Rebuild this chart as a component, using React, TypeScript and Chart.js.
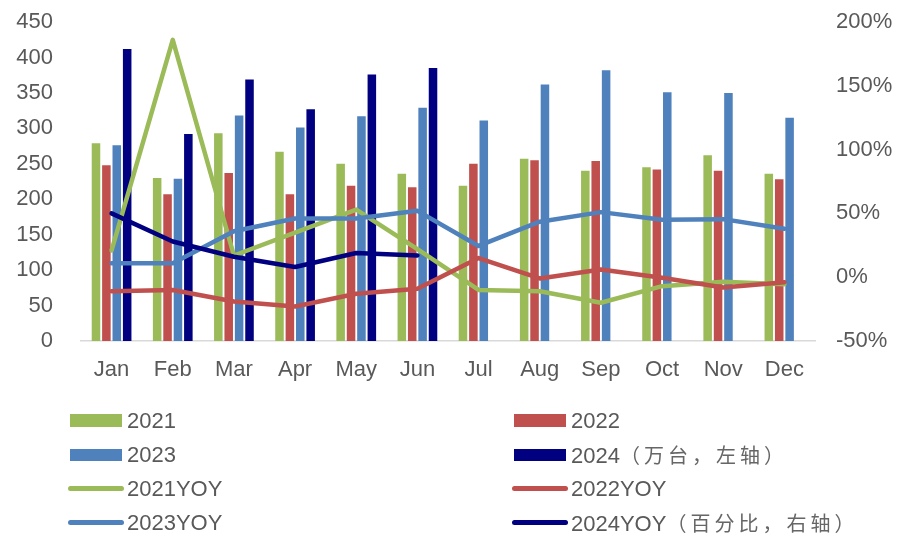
import React, { useEffect, useRef } from 'react';
import { Chart, registerables } from 'chart.js';

Chart.register(...registerables);

const categories = ['Jan', 'Feb', 'Mar', 'Apr', 'May', 'Jun', 'Jul', 'Aug', 'Sep', 'Oct', 'Nov', 'Dec'];

const sales2021 = [279, 230, 293, 267, 250, 236, 219, 257, 240, 245, 262, 236];
const sales2022 = [248, 207, 237, 207, 219, 217, 250, 255, 254, 242, 240, 228];
const sales2023 = [276, 229, 318, 301, 317, 329, 311, 362, 382, 351, 350, 315];
const sales2024 = [412, 292, 369, 327, 376, 385, null, null, null, null, null, null];

const yoy2021 = [21, 186, 17, 35, 53, 22, -10, -11, -20, -7, -3.5, -5.5];
const yoy2022 = [-11, -10, -19, -23, -13, -9, 15, -1, 6, -0.5, -8, -4];
const yoy2023 = [11, 11, 36, 46, 46, 52, 24.5, 43.5, 51, 45, 45.5, 38];
const yoy2024 = [50, 28, 16, 8, 19, 17, null, null, null, null, null, null];

const leftTicks = { min: 0, max: 450, step: 50 };
const rightTicks = { min: -50, max: 200, step: 50 };

const barLabels = ['2021', '2022', '2023', '2024（万台，左轴）'];
const lineLabels = ['2021YOY', '2022YOY', '2023YOY', '2024YOY（百分比，右轴）'];
const seriesColors = ['#9BBB59', '#C0504D', '#4F81BD', '#000080'];

const FONT = "'Liberation Sans', Arial, 'Noto Sans CJK SC', sans-serif";
const CJK_FONT = "'Noto Sans CJK SC', 'Liberation Sans', sans-serif";
const TEXT = '#595959';

export default function App() {
  const ref = useRef<HTMLCanvasElement>(null);

  useEffect(() => {
    const barData = [sales2021, sales2022, sales2023, sales2024];
    const lineData = [yoy2021, yoy2022, yoy2023, yoy2024];
    const datasets: any[] = [];
    barData.forEach((d, i) => {
      datasets.push({
        type: 'bar',
        label: barLabels[i],
        data: d,
        backgroundColor: seriesColors[i],
        borderWidth: 0,
        yAxisID: 'y',
        order: 10,
        categoryPercentage: 0.68,
        barPercentage: 0.82,
      });
    });
    lineData.forEach((d, i) => {
      datasets.push({
        type: 'line',
        label: lineLabels[i],
        data: d,
        borderColor: seriesColors[i],
        backgroundColor: seriesColors[i],
        borderWidth: 4.5,
        pointRadius: 0,
        pointHoverRadius: 0,
        tension: 0,
        fill: false,
        spanGaps: false,
        borderJoinStyle: 'round',
        borderCapStyle: 'round',
        yAxisID: 'y1',
        order: 3 - i,
      });
    });

    const chart = new Chart(ref.current!, {
      type: 'bar',
      data: { labels: categories, datasets },
      options: {
        responsive: false,
        animation: false,
        layout: { padding: { top: 22, bottom: 0, left: 0, right: 0 } },
        plugins: { legend: { display: false }, tooltip: { enabled: false } },
        scales: {
          x: {
            grid: { display: false, drawTicks: false },
            border: { display: true, color: '#D9D9D9', width: 1.5 },
            ticks: { color: TEXT, font: { family: FONT, size: 22 }, padding: 16, maxRotation: 0, autoSkip: false },
            afterFit: (s: any) => { s.height = 194; },
          },
          y: {
            position: 'left',
            min: leftTicks.min,
            max: leftTicks.max,
            grid: { display: false, drawTicks: false },
            border: { display: false },
            ticks: { stepSize: leftTicks.step, color: TEXT, font: { family: FONT, size: 22 }, padding: 28 },
            afterFit: (s: any) => { s.width = 81; s.paddingTop = 0; s.paddingBottom = 0; },
          },
          y1: {
            position: 'right',
            min: rightTicks.min,
            max: rightTicks.max,
            grid: { display: false, drawTicks: false },
            border: { display: false },
            ticks: {
              stepSize: rightTicks.step,
              color: TEXT,
              font: { family: FONT, size: 22 },
              padding: 21,
              callback: (v: any) => `${v}%`,
            },
            afterFit: (s: any) => { s.width = 83; s.paddingTop = 0; s.paddingBottom = 0; },
          },
        },
      } as any,
    });
    return () => chart.destroy();
  }, []);

  const rows = [420.5, 455, 488.5, 522.5];
  const items: { label: string; color: string; kind: 'box' | 'line'; col: number; row: number }[] = [];
  for (let i = 0; i < 4; i++) {
    items.push({ label: barLabels[i], color: seriesColors[i], kind: 'box', col: i % 2, row: Math.floor(i / 2) });
  }
  for (let i = 0; i < 4; i++) {
    items.push({ label: lineLabels[i], color: seriesColors[i], kind: 'line', col: i % 2, row: 2 + Math.floor(i / 2) });
  }
  const colBox = [70, 514];
  const colText = [127, 571];

  return (
    <div style={{ position: 'absolute', left: 0, top: 0, width: 898, height: 535, background: '#fff', overflow: 'hidden' }}>
      <canvas ref={ref} width={898} height={535} style={{ position: 'absolute', left: 0, top: 0, width: 898, height: 535 }} />
      {items.map((it, k) => {
        const cy = rows[it.row];
        const cut = it.label.indexOf('（');
        const head = cut >= 0 ? it.label.slice(0, cut) : it.label;
        const tail = cut >= 0 ? it.label.slice(cut) : '';
        return (
          <React.Fragment key={k}>
            {it.kind === 'box' ? (
              <div style={{ position: 'absolute', left: colBox[it.col], top: cy - 6.5, width: 52, height: 12.5, background: it.color }} />
            ) : (
              <div style={{ position: 'absolute', left: colBox[it.col] - 2, top: cy - 2.75, width: 56, height: 5.5, borderRadius: 3, background: it.color }} />
            )}
            <div
              style={{
                position: 'absolute',
                left: colText[it.col],
                top: cy - 15,
                height: 30,
                lineHeight: '30px',
                fontFamily: FONT,
                fontSize: 22,
                color: TEXT,
                whiteSpace: 'nowrap',
              }}
            >
              {head}
              {tail ? (
                <span style={{ fontFamily: CJK_FONT, fontSize: 20, letterSpacing: 4, color: '#666666' }}>{tail}</span>
              ) : null}
            </div>
          </React.Fragment>
        );
      })}
    </div>
  );
}
